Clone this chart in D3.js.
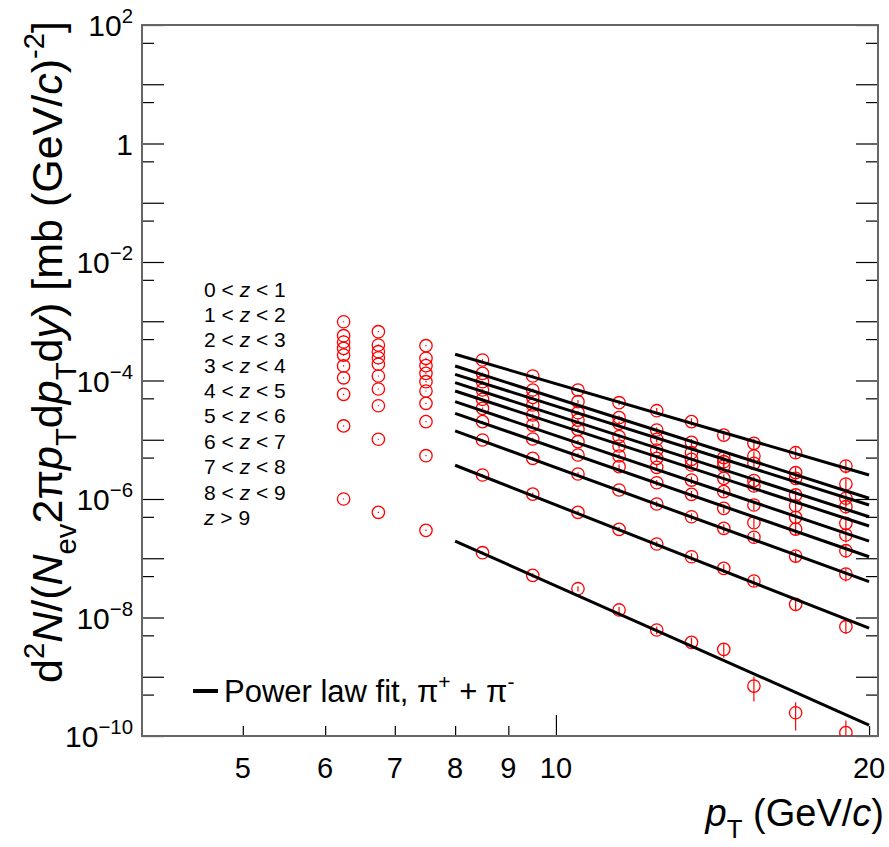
<!DOCTYPE html>
<html><head><meta charset="utf-8">
<script src="https://cdn.jsdelivr.net/npm/d3@7/dist/d3.min.js"></script>
<style>body{margin:0;background:#fff} text{font-family:"Liberation Sans",Arial,Helvetica,sans-serif;fill:#000}</style>
</head><body><svg id="c" width="889" height="847"></svg>
<script>
// ---- data ----
const pT = [6.25, 6.75, 7.5, 8.5, 9.5, 10.5, 11.5, 12.5, 13.5, 14.5, 15.5, 17, 19];
const zBins = ["0 < z < 1","1 < z < 2","2 < z < 3","3 < z < 4","4 < z < 5","5 < z < 6","6 < z < 7","7 < z < 8","8 < z < 9","z > 9"];
const yield_z0 = [9.8e-4, 6.66e-4, 3.87e-4, 2.22e-4, 1.19e-4, 6.91e-5, 4.22e-5, 3.09e-5, 2.02e-5, 1.20e-5, 8.71e-6, 6.04e-6, 3.60e-6];
const yield_z1 = [5.70e-4, 3.97e-4, 2.37e-4, 1.32e-4, 6.91e-5, 4.39e-5, 2.36e-5, 1.46e-5, 9.05e-6, 4.98e-6, 5.32e-6, 2.78e-6, 1.79e-6];
const yield_z2 = [4.46e-4, 3.06e-4, 1.78e-4, 9.54e-5, 5.20e-5, 2.86e-5, 1.89e-5, 1.02e-5, 6.04e-6, 4.26e-6, 4.00e-6, 2.23e-6, 1.03e-6];
const yield_z3 = [3.49e-4, 2.42e-4, 1.32e-4, 6.91e-5, 3.86e-5, 2.15e-5, 1.13e-5, 6.71e-6, 4.68e-6, 3.60e-6, 2.04e-6, 1.17e-6, 7.41e-7];
const yield_z4 = [2.69e-4, 1.88e-4, 9.54e-5, 4.82e-5, 2.62e-5, 1.50e-5, 7.84e-6, 4.86e-6, 3.75e-6, 2.23e-6, 1.66e-6, 7.70e-7, 3.89e-7];
const yield_z5 = [1.76e-4, 1.19e-4, 6.65e-5, 3.39e-5, 1.77e-5, 9.27e-6, 5.32e-6, 3.43e-6, 2.09e-6, 1.33e-6, 7.92e-7, 4.91e-7, 2.47e-7];
const yield_z6 = [1.11e-4, 7.18e-5, 4.12e-5, 2.02e-5, 1.03e-5, 5.53e-6, 3.51e-6, 1.88e-6, 1.20e-6, 6.96e-7, 3.98e-7, 3.11e-7, 1.34e-7];
const yield_z7 = [5.85e-5, 3.75e-5, 2.02e-5, 9.90e-6, 4.86e-6, 2.64e-6, 1.42e-6, 8.23e-7, 5.02e-7, 3.20e-7, 2.26e-7, 1.09e-7, 5.42e-8];
const yield_z8 = [1.71e-5, 1.02e-5, 5.38e-6, 2.54e-6, 1.21e-6, 5.96e-7, 3.08e-7, 1.74e-7, 1.06e-7, 6.76e-8, 4.13e-8, 1.67e-8, 6.99e-9];
const yield_z9 = [1.0e-6, 5.96e-7, 2.96e-7, 1.24e-7, 5.15e-8, 3.06e-8, 1.34e-8, 6.15e-9, 3.81e-9, 2.90e-9, 6.97e-10, 2.47e-10, 1.14e-10];
const relErr = [0.02, 0.02, 0.02, 0.03, 0.05, 0.07, 0.09, 0.11, 0.14, 0.17, 0.19, 0.22, 0.25];
const relErrLast = [0.02, 0.02, 0.03, 0.05, 0.08, 0.1, 0.12, 0.15, 0.2, 0.28, 0.45, 0.5, 0.6];
const fitRange = [8, 20];
const fitAtLow  = [2.77e-4, 1.76e-4, 1.27e-4, 9.2e-5, 6.65e-5, 4.39e-5, 2.79e-5, 1.41e-5, 3.71e-6, 1.95e-7];
const fitAtHigh = [2.54e-6, 1.03e-6, 7.92e-7, 5.02e-7, 3.50e-7, 1.95e-7, 1.06e-7, 4.02e-8, 6.6e-9, 1.53e-10];
const yLabelValues = [1e2, 1, 1e-2, 1e-4, 1e-6, 1e-8, 1e-10];
const yLabelExps = ["2", "", "\u22122", "\u22124", "\u22126", "\u22128", "\u221210"];
const xTickMajor = [10];
const xTickMinor = [5, 6, 7, 8, 9, 20];
const xLabelValues = [5, 6, 7, 8, 9, 10, 20];

const series = [yield_z0, yield_z1, yield_z2, yield_z3, yield_z4, yield_z5, yield_z6, yield_z7, yield_z8, yield_z9];

// ---- layout ----
const L = 142, R = 878, T = 25, B = 736;
const svg = d3.select("#c");
const x = d3.scaleLog().domain([4, 20.4]).range([L, R]);
const y = d3.scaleLog().domain([1e-10, 1e2]).range([B, T]);

function rich(sel, parts, fs) {
  let off = 0;
  parts.forEach(p => {
    const target = p.sup ? -0.42 * fs : p.sub ? 0.32 * fs : 0;
    const ts = sel.append("tspan").text(p.t).attr("dy", target - off);
    off = target;
    if (p.sup || p.sub) ts.attr("font-size", 0.68 * fs);
    if (p.it) ts.attr("font-style", "italic");
  });
}

svg.append("defs").append("clipPath").attr("id", "clip")
  .append("rect").attr("x", L).attr("y", T).attr("width", R - L).attr("height", B - T);

// ticks
const decades = d3.range(-10, 3).map(e => Math.pow(10, e));
const fives = d3.range(-10, 2).map(e => 5 * Math.pow(10, e));
function tickAxis(axis, tx, ty) {
  const g = svg.append("g").attr("transform", `translate(${tx},${ty})`).call(axis);
  g.select(".domain").remove();
  g.selectAll(".tick line").attr("stroke", "#000").attr("stroke-width", 1.2);
  g.selectAll(".tick text").remove();
}
tickAxis(d3.axisLeft(y).tickValues(decades).tickSize(-22), L, 0);
tickAxis(d3.axisLeft(y).tickValues(fives).tickSize(-12), L, 0);
tickAxis(d3.axisRight(y).tickValues(decades).tickSize(-22), R, 0);
tickAxis(d3.axisRight(y).tickValues(fives).tickSize(-12), R, 0);
tickAxis(d3.axisBottom(x).tickValues(xTickMajor).tickSize(-21), 0, B);
tickAxis(d3.axisBottom(x).tickValues(xTickMinor).tickSize(-10), 0, B);

// frame
svg.append("rect").attr("x", L).attr("y", T).attr("width", R - L).attr("height", B - T)
  .attr("fill", "none").attr("stroke", "#666").attr("stroke-width", 2);

// y labels
yLabelValues.forEach((v, i) => {
  const t = svg.append("text").attr("x", 133).attr("y", y(v) + 11).attr("text-anchor", "end").attr("font-size", 30);
  if (yLabelExps[i] === "") t.text("1");
  else rich(t, [{t: "10"}, {t: yLabelExps[i], sup: true}], 30);
});
// x labels
xLabelValues.forEach(v => {
  svg.append("text").attr("x", x(v)).attr("y", 778).attr("text-anchor", "middle").attr("font-size", 29).text(v);
});

// data
const data = svg.append("g").attr("clip-path", "url(#clip)");
series.forEach((s, si) => {
  const errs = si === 9 ? relErrLast : relErr;
  s.forEach((v, j) => {
    const e = errs[j];
    const y1 = y(v * (1 + e)), y2 = y(v * (1 - e));
    data.append("line").attr("x1", x(pT[j])).attr("x2", x(pT[j]))
      .attr("y1", Math.min(y1, y(v) - 0.6)).attr("y2", Math.max(y2, y(v) + 0.6))
      .attr("stroke", "#f00").attr("stroke-width", 1.2);
    data.append("circle").attr("cx", x(pT[j])).attr("cy", y(v)).attr("r", 6.2)
      .attr("fill", "none").attr("stroke", "#f00").attr("stroke-width", 1.3);
  });
});
// fits
const line = d3.line().x(d => x(d[0])).y(d => y(d[1]));
fitAtLow.forEach((a, i) => {
  data.append("path").attr("d", line([[fitRange[0], a], [fitRange[1], fitAtHigh[i]]]))
    .attr("stroke", "#000").attr("stroke-width", 3).attr("fill", "none");
});

// z legend
zBins.forEach((lab, i) => {
  const t = svg.append("text").attr("x", 204).attr("y", 296.7 + i * 25.35).attr("font-size", 21);
  const parts = lab.split("z");
  t.append("tspan").text(parts[0]);
  t.append("tspan").attr("font-style", "italic").text("z");
  t.append("tspan").text(parts[1]);
});

// power law legend
svg.append("line").attr("x1", 193).attr("x2", 218).attr("y1", 691).attr("y2", 691)
  .attr("stroke", "#000").attr("stroke-width", 4);
const pl = svg.append("text").attr("x", 224).attr("y", 702).attr("font-size", 31);
rich(pl, [{t: "Power law fit, \u03c0"}, {t: "+", sup: true}, {t: " + \u03c0"}, {t: "-", sup: true}], 31);

// axis titles
const xt = svg.append("text").attr("x", 884).attr("y", 826).attr("text-anchor", "end").attr("font-size", 38);
rich(xt, [{t: "p", it: true}, {t: "T", sub: true}, {t: " (GeV/"}, {t: "c", it: true}, {t: ")"}], 38);

const yt = svg.append("text").attr("transform", "translate(62,683) rotate(-90)").attr("font-size", 43);
rich(yt, [{t: "d"}, {t: "2", sup: true}, {t: "N", it: true}, {t: "/("}, {t: "N", it: true}, {t: "ev", sub: true},
  {t: "2\u03c0"}, {t: "p", it: true}, {t: "T", sub: true}, {t: "d"}, {t: "p", it: true}, {t: "T", sub: true},
  {t: "d"}, {t: "y", it: true}, {t: ") [mb (GeV/"}, {t: "c", it: true}, {t: ")"}, {t: "-2", sup: true}, {t: "]"}], 43);
</script></body></html>
